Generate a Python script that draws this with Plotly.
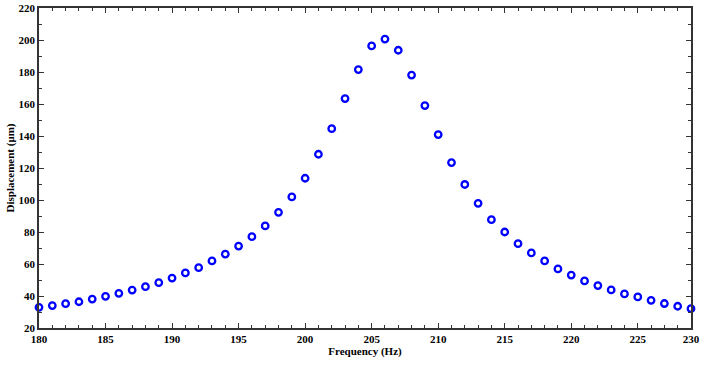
import plotly.graph_objects as go

frequency_hz = list(range(180, 230))
displacement_um = [
    32.9, 34.0, 35.2, 36.4, 38.1, 39.8, 41.7, 43.7, 45.8, 48.3,
    51.2, 54.4, 57.7, 61.9, 66.2, 71.2, 77.1, 83.8, 92.3, 101.9,
    113.6, 128.6, 144.6, 163.4, 181.5, 196.3, 200.6, 193.6, 178.1, 159.0,
    140.9, 123.4, 109.7, 97.9, 87.7, 80.0, 72.7, 66.9, 61.9, 56.9,
    53.1, 49.4, 46.5, 43.8, 41.3, 39.4, 37.3, 35.3, 33.6, 32.1,
]
x_tick_vals = [180, 185, 190, 195, 200, 205, 210, 215, 220, 225, 229]
x_tick_text = ["180", "185", "190", "195", "200", "205", "210", "215", "220", "225", "230"]
y_tick_vals = [20, 40, 60, 80, 100, 120, 140, 160, 180, 200, 220]

font_b = dict(family="Liberation Serif", size=11, color="black", weight="bold")

fig = go.Figure()
fig.add_trace(go.Scatter(
    x=frequency_hz, y=displacement_um, mode="markers",
    marker=dict(symbol="circle-open", size=6.5, color="#0000FF",
                line=dict(width=2.3, color="#0000FF")),
    showlegend=False, cliponaxis=False,
))

axis_common = dict(
    showline=True, linecolor="#333333", linewidth=1.5, mirror="allticks",
    ticks="inside", ticklen=5, tickwidth=1.2, tickcolor="#333333",
    showgrid=False, zeroline=False, tickfont=font_b, automargin=False,
)
fig.update_xaxes(
    range=[180, 229], tickmode="array", tickvals=x_tick_vals, ticktext=x_tick_text,
    minor=dict(tick0=180, dtick=1, ticks="inside", ticklen=3, tickcolor="#333333", tickwidth=1),
    title=dict(text="Frequency (Hz)", font=font_b, standoff=3),
    ticklabelstandoff=0,
    **axis_common,
)
fig.update_yaxes(
    range=[20, 220], tickmode="array", tickvals=y_tick_vals,
    minor=dict(tick0=20, dtick=10, ticks="inside", ticklen=3, tickcolor="#333333", tickwidth=1),
    title=dict(text="Displacement (μm)", font=font_b, standoff=2),
    **axis_common,
)
fig.update_layout(
    width=707, height=365,
    margin=dict(l=39, r=16, t=8, b=37),
    paper_bgcolor="white", plot_bgcolor="white",
)
fig.write_html(
    "out.html",
    config={"displayModeBar": False},
    post_script="document.body.style.margin='0';document.body.style.padding='0';",
)
